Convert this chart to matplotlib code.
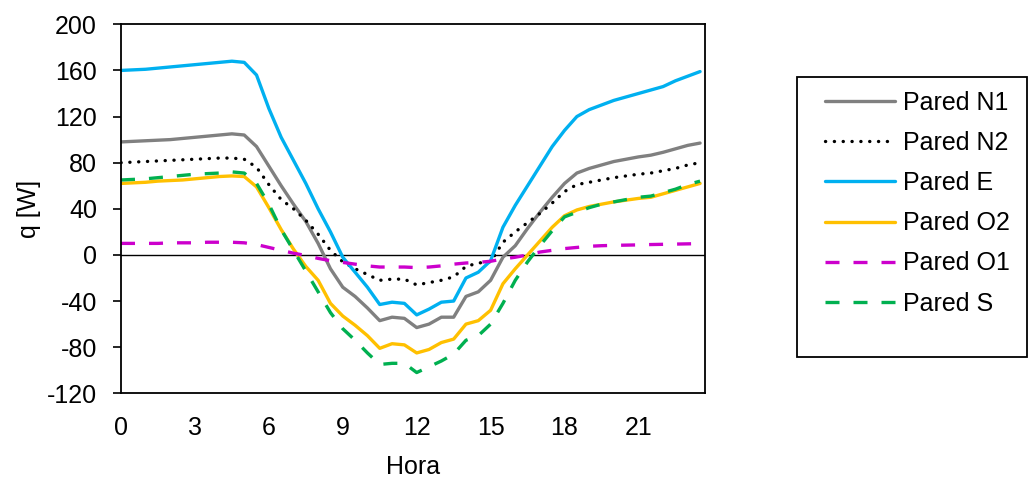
import matplotlib
matplotlib.use("Agg")
import matplotlib.pyplot as plt
from matplotlib.patches import Rectangle

plt.rcParams['font.family'] = ['Liberation Sans', 'DejaVu Sans']
plt.rcParams['font.size'] = 18
plt.rcParams['axes.unicode_minus'] = False

hours = [i * 0.5 for i in range(48)]

pared_n1 = [98, 98.5, 99, 99.5, 100, 101, 102, 103, 104, 105, 104, 94, 77, 60, 44, 29,
            10, -12, -28, -36, -46, -57, -54, -55, -63, -60, -54, -54, -36, -32, -22, -2,
            8, 23, 37, 50, 62, 71, 75, 78, 81, 83, 85, 86.5, 89, 92, 95, 97]
pared_n2 = [80, 80.5, 81, 81.5, 82, 82.5, 83, 83.5, 84, 84, 83, 76, 61, 48, 40, 30,
            18, 4, -6, -12, -17, -22, -21, -21, -26, -24, -22, -19, -10, -7, -6, 11,
            20, 28, 36, 45, 55, 61, 63, 65, 67, 68.5, 70, 71, 73, 75, 78, 80]
pared_e = [160, 160.5, 161, 162, 163, 164, 165, 166, 167, 168, 167, 156, 127, 102, 82, 62,
           40, 20, -2, -15, -28, -43, -41, -42, -52, -47, -41, -40, -20, -15, -5, 24,
           43, 60, 77, 94, 108, 120, 126, 130, 134, 137, 140, 143, 146, 151, 155, 159]
pared_o2 = [62, 62.5, 63, 64, 64.5, 65, 66, 67, 68, 68.5, 68, 59, 41, 22, 5, -10,
            -22, -42, -53, -61, -70, -81, -77, -78, -85, -82, -76, -73, -60, -57, -48, -25,
            -12, 0, 12, 24, 34, 39, 42, 44, 46, 47.5, 49, 50, 53, 56, 59, 62]
pared_o1 = [10, 10, 10, 10, 10.5, 10.5, 10.5, 11, 11, 11, 10.5, 9, 6.5, 4, 1.5, -0.5,
            -3, -5, -6.5, -8, -9.5, -10.5, -10.5, -10.5, -11, -10.5, -9.5, -8, -7, -6.5, -5.5, -3.5,
            -2, 0, 2.5, 4, 5.5, 6.5, 7.5, 8, 8.3, 8.5, 8.7, 9, 9.2, 9.4, 9.6, 9.8]
pared_s = [65, 65.5, 66, 67, 68, 69, 70, 70.5, 71, 72, 71, 62, 44, 22, 4, -14,
           -32, -50, -64, -74, -85, -95, -94, -94, -102, -97, -92, -86, -74, -70, -60, -42,
           -22, -6, 8, 21, 33, 37, 41, 44, 46, 48, 50, 51, 54, 57, 61, 64]

labels = ['Pared N1', 'Pared N2', 'Pared E', 'Pared O2', 'Pared O1', 'Pared S']
xticks = [0, 3, 6, 9, 12, 15, 18, 21]
yticks = [-120, -80, -40, 0, 40, 80, 120, 160, 200]

W, H = 1029, 480
fig = plt.figure(figsize=(W / 100, H / 100), dpi=100)
ax = fig.add_axes([121 / W, 1 - 393.3 / H, (705 - 121) / W, (393.3 - 24.3) / H])

lw = 2.4
ax.axhline(0, color='black', lw=1.0, zorder=1)
ax.plot(hours, pared_n1, color='#808080', lw=lw, label=labels[0], solid_capstyle='round',
        solid_joinstyle='round')
ax.plot(hours, pared_n2, color='black', lw=lw, linestyle=(0, (0.05, 2.6)),
        dash_capstyle='round', label=labels[1])
ax.plot(hours, pared_e, color='#00B0F0', lw=lw, label=labels[2], solid_capstyle='round',
        solid_joinstyle='round')
ax.plot(hours, pared_o2, color='#FFC000', lw=lw, label=labels[3], solid_capstyle='round',
        solid_joinstyle='round')
ax.plot(hours, pared_o1, color='#CC00CC', lw=lw, linestyle=(0, (4.2, 4.2)), label=labels[4])
ax.plot(hours, pared_s, color='#00B050', lw=lw, linestyle=(0, (4.2, 4.2)), label=labels[5])

ax.set_xlim(0, 23.7)
ax.set_ylim(-120, 200)
ax.set_xticks(xticks)
ax.set_yticks(yticks)
ax.tick_params(axis='x', length=0, pad=16)
ax.tick_params(axis='y', direction='out', length=5.8, width=1.2, pad=11.5)
for sp in ax.spines.values():
    sp.set_linewidth(1.3)
    sp.set_color('black')
ax.set_xlabel('Hora', labelpad=11)
ax.set_ylabel('q [W]', labelpad=4)

# legend box
fig.patches.append(Rectangle((797 / W, 1 - 357 / H), (1027 - 797) / W, (357 - 77.3) / H,
                             transform=fig.transFigure, fill=False, edgecolor='black',
                             lw=1.3))
leg = fig.legend(loc='upper left', bbox_to_anchor=(825 / W, 1 - 90.5 / H),
                 frameon=False, borderpad=0, borderaxespad=0, handlelength=2.8,
                 handletextpad=0.32, labelspacing=0.65)

fig.savefig('out.png', dpi=100)
